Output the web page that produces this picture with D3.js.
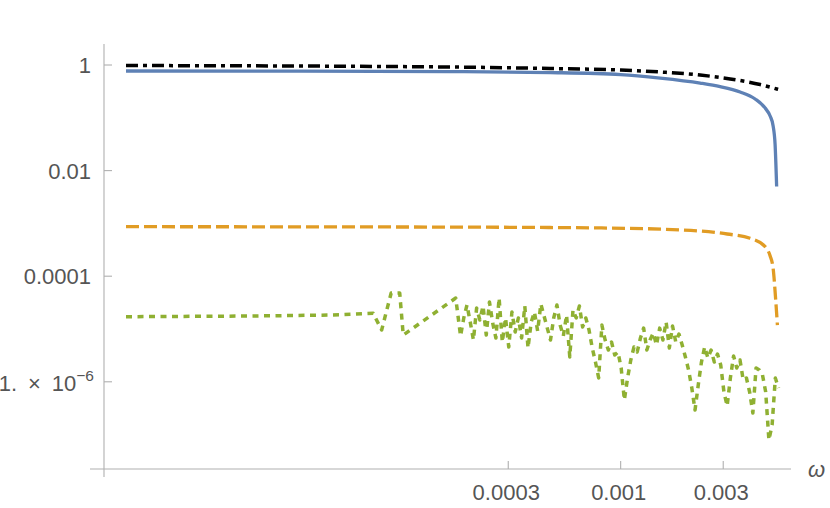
<!DOCTYPE html>
<html><head><meta charset="utf-8">
<script src="https://cdn.jsdelivr.net/npm/d3@7"></script>
<style>body{margin:0;background:#fff}svg{display:block}</style>
</head><body><svg id="c" width="830" height="508"></svg>
<script>
// ---- data ----
const xTicks = [0.0003, 0.001, 0.003];
const xTickLabels = ["0.0003", "0.001", "0.003"];
const yTicks = [1, 0.01, 0.0001, 1e-6];
const yTickLabels = ["1", "0.01", "0.0001", "1e-6"];

const blackOmega = [5e-6, 1.61e-4, 4.70e-4, 1e-3, 1.527e-3, 2.343e-3, 2.903e-3, 3.596e-3, 4.457e-3, 5.40e-3];
const blackValue = [0.978, 0.917, 0.858, 0.804, 0.737, 0.647, 0.58, 0.509, 0.427, 0.346];

const blueOmega = [5e-6, 3.2e-5, 1.61e-4, 4.70e-4, 1e-3, 1.527e-3, 2.343e-3, 2.903e-3, 3.596e-3, 4.223e-3, 4.70e-3, 4.958e-3, 5.12e-3, 5.23e-3, 5.316e-3];
const blueValue = [0.77, 0.765, 0.75, 0.72, 0.66, 0.567, 0.456, 0.39, 0.308, 0.227, 0.153, 0.108, 0.07, 0.0306, 0.005];

const orangeOmega = [5e-6, 9.43e-5, 4.70e-4, 8.03e-4, 1.954e-3, 3.13e-3, 4.0e-3, 4.7e-3, 4.96e-3, 5.12e-3, 5.27e-3, 5.36e-3];
const orangeValue = [8.66e-4, 8.55e-4, 8.36e-4, 8.2e-4, 7.5e-4, 6.3e-4, 5.22e-4, 3.62e-4, 2.41e-4, 1.41e-4, 3.29e-5, 1.19e-5];

const greenOmega = [
  5e-6, 1.89e-5, 4.45e-5, 7.06e-5, 7.73e-5, 8.56e-5, 9.38e-5, 9.74e-5, 1.709e-4,
  1.80e-4, 1.863e-4, 1.928e-4, 1.996e-4, 2.066e-4, 2.138e-4, 2.213e-4, 2.29e-4, 2.37e-4, 2.453e-4,
  2.539e-4, 2.628e-4, 2.72e-4, 2.815e-4, 2.914e-4, 3.016e-4, 3.121e-4, 3.231e-4, 3.344e-4, 3.461e-4,
  3.582e-4, 3.707e-4, 3.837e-4, 3.971e-4, 4.11e-4, 4.254e-4, 4.403e-4, 4.557e-4, 4.717e-4, 4.882e-4,
  5.053e-4, 5.229e-4, 5.412e-4, 5.602e-4, 5.798e-4, 6.001e-4, 6.211e-4, 6.428e-4, 6.653e-4, 6.886e-4,
  7.127e-4, 7.377e-4, 7.635e-4, 7.902e-4, 8.179e-4, 8.465e-4, 8.761e-4, 9.068e-4, 9.385e-4, 9.714e-4,
  1.0054e-3, 1.0406e-3, 1.077e-3, 1.1147e-3, 1.1537e-3, 1.1941e-3, 1.2359e-3, 1.2791e-3, 1.3239e-3, 1.3702e-3,
  1.4182e-3, 1.4678e-3, 1.5192e-3, 1.5724e-3, 1.6274e-3, 1.6844e-3, 1.7433e-3, 1.8044e-3, 1.8675e-3, 1.9329e-3,
  2.0005e-3, 2.0705e-3, 2.143e-3, 2.218e-3, 2.2957e-3, 2.376e-3, 2.4592e-3, 2.5452e-3, 2.6343e-3, 2.7265e-3,
  2.822e-3, 2.9207e-3, 3.023e-3, 3.1288e-3, 3.2383e-3, 3.3516e-3, 3.4689e-3, 3.5903e-3, 3.716e-3, 3.8461e-3,
  3.9807e-3, 4.12e-3, 4.2642e-3, 4.4135e-3, 4.5679e-3, 4.7278e-3, 4.8933e-3, 5.0645e-3, 5.2418e-3, 5.4253e-3
];
const greenValue = [
  1.71e-5, 1.76e-5, 1.84e-5, 1.98e-5, 9.57e-6, 4.81e-5, 4.81e-5, 7.69e-6, 3.86e-5,
  7.37e-6, 1.62e-5, 2.85e-5, 1.36e-5, 6.19e-6, 2.50e-5, 1.48e-5, 2.73e-5, 7.70e-6, 3.25e-5,
  1.30e-5, 6.75e-6, 3.87e-5, 5.67e-6, 1.62e-5, 4.56e-6, 2.10e-5, 8.77e-6, 1.62e-5, 6.75e-6,
  2.73e-5, 4.37e-6, 1.36e-5, 2.10e-5, 9.16e-6, 2.98e-5, 1.76e-5, 1.04e-5, 6.19e-6, 1.62e-5,
  2.85e-5, 1.19e-5, 7.37e-6, 1.84e-5, 2.95e-6, 2.29e-5, 1.62e-5, 2.73e-5, 1.09e-5, 1.62e-5,
  9.57e-6, 4.37e-6, 2.37e-6, 1.18e-6, 1.19e-5, 6.19e-6, 4.00e-6, 5.67e-6, 3.22e-6, 3.67e-6,
  1.83e-6, 4.52e-7, 1.18e-6, 2.59e-6, 4.56e-6, 3.67e-6, 6.75e-6, 1.04e-5, 4.00e-6, 6.19e-6,
  8.40e-6, 4.98e-6, 1.04e-5, 6.19e-6, 1.36e-5, 4.37e-6, 1.14e-5, 5.67e-6, 8.04e-6, 4.98e-6,
  2.95e-6, 1.67e-6, 7.63e-7, 2.92e-7, 8.70e-7, 2.37e-6, 4.56e-6, 2.82e-6, 4.00e-6, 2.37e-6,
  3.36e-6, 2.08e-6, 6.41e-7, 3.48e-7, 1.18e-6, 3.08e-6, 1.83e-6, 2.59e-6, 1.08e-6, 1.18e-6,
  6.41e-7, 2.56e-7, 1.83e-6, 1.67e-6, 1.35e-6, 6.41e-7, 7.9e-8, 1.52e-7, 1.18e-6, 7.63e-7
];

// ---- drawing ----
const svg = d3.select("#c");
svg.append("rect").attr("width", 830).attr("height", 508).attr("fill", "#fff");

const x = d3.scaleLog().domain([3.4e-6, 0.0062]).range([90, 791]);
const y = d3.scaleLog().domain([2.23e-8, 2.5]).range([469, 44]);
const axisX = 104; // y-axis position in px
const axisColor = "#b0b0b0";
const textColor = "#555";
const font = "'Liberation Sans', Arial, sans-serif";
const fs = 22;

// axes lines
svg.append("line").attr("x1", 90).attr("x2", 791).attr("y1", 469).attr("y2", 469)
  .attr("stroke", axisColor).attr("stroke-width", 1.1);
svg.append("line").attr("x1", axisX).attr("x2", axisX).attr("y1", 44).attr("y2", 477)
  .attr("stroke", axisColor).attr("stroke-width", 1.1);

// x ticks
const gx = svg.append("g");
xTicks.forEach((t, i) => {
  gx.append("line").attr("x1", x(t)).attr("x2", x(t)).attr("y1", 469).attr("y2", 461)
    .attr("stroke", axisColor).attr("stroke-width", 1.1);
  gx.append("text").attr("x", x(t) - 2).attr("y", 500).attr("text-anchor", "middle")
    .attr("font-family", font).attr("font-size", fs).attr("fill", textColor)
    .text(xTickLabels[i]);
});
svg.append("text").attr("x", 808).attr("y", 477).attr("font-family", font)
  .attr("font-style", "italic").attr("font-size", 22).attr("fill", textColor).text("ω");

// y ticks
const gy = svg.append("g");
yTicks.forEach((t, i) => {
  gy.append("line").attr("x1", axisX).attr("x2", axisX + 8).attr("y1", y(t)).attr("y2", y(t))
    .attr("stroke", axisColor).attr("stroke-width", 1.1);
  const tx = gy.append("text").attr("text-anchor", "end")
    .attr("font-family", font).attr("font-size", fs).attr("fill", textColor);
  if (yTickLabels[i] === "1e-6") {
    tx.attr("x", 94).attr("y", y(t) + 9);
    tx.append("tspan").text("1.\u2002×\u200210");
    tx.append("tspan").attr("font-size", 15.5).attr("dy", -10).text("−6");
  } else {
    tx.attr("x", 91).attr("y", y(t) + 8).text(yTickLabels[i]);
  }
});

function series(om, val, color, dash, width, curve) {
  const pts = om.map((o, i) => [o, val[i]]);
  const line = d3.line().x(d => x(d[0])).y(d => y(d[1])).curve(curve);
  svg.append("path").attr("d", line(pts)).attr("fill", "none")
    .attr("stroke", color).attr("stroke-width", width)
    .attr("stroke-dasharray", dash).attr("stroke-linejoin", "round");
}

series(orangeOmega, orangeValue, "#E19C24", "13,5", 3.3, d3.curveMonotoneX);
series(greenOmega, greenValue, "#8FB032", "6,5.5", 3.5, d3.curveLinear);
series(blueOmega, blueValue, "#5E81B5", null, 3.3, d3.curveMonotoneX);
series(blackOmega, blackValue, "#000", "12,5,4,5", 3.5, d3.curveMonotoneX);
</script></body></html>
